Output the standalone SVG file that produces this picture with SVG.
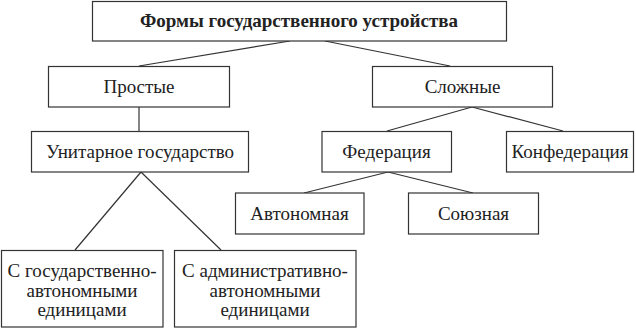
<svg xmlns="http://www.w3.org/2000/svg" width="636" height="329" viewBox="0 0 636 329">
<style>
  rect { fill: #ffffff; stroke: #333333; stroke-width: 1.2; }
  text { font-family: "Liberation Serif", "DejaVu Serif", serif; font-size: 19px; fill: #222222; text-anchor: middle; }
  .title { font-weight: bold; }
  #connectors line { stroke: #333333; stroke-width: 1.2; }
</style>
<rect x="0" y="0" width="636" height="329" style="fill:#ffffff;stroke:none"/>
<g id="connectors">
  <line x1="290" y1="41" x2="139" y2="66"/>
  <line x1="325" y1="41" x2="450" y2="66"/>
  <line x1="139" y1="107" x2="139" y2="131"/>
  <line x1="472" y1="107" x2="387" y2="131"/>
  <line x1="472" y1="107" x2="563" y2="131"/>
  <line x1="388" y1="172" x2="304" y2="193"/>
  <line x1="388" y1="172" x2="473" y2="193"/>
  <line x1="141" y1="172" x2="75" y2="250"/>
  <line x1="141" y1="172" x2="221" y2="250"/>
</g>
<g id="root">
  <rect x="92.5" y="1.5" width="414" height="39.5"/>
  <text class="title" x="299" y="27">Формы государственного устройства</text>
</g>
<g id="simple">
  <rect x="48.5" y="66.5" width="181" height="40.5"/>
  <text x="139" y="93">Простые</text>
</g>
<g id="complex">
  <rect x="372.5" y="66.5" width="180" height="40.5"/>
  <text x="462.5" y="93">Сложные</text>
</g>
<g id="unitary">
  <rect x="31.5" y="131.5" width="217" height="40.5"/>
  <text x="140" y="158">Унитарное государство</text>
</g>
<g id="federation">
  <rect x="322" y="131.5" width="129.5" height="40.5"/>
  <text x="386.5" y="158">Федерация</text>
</g>
<g id="confederation">
  <rect x="506.5" y="131.5" width="127" height="40.5"/>
  <text x="570" y="158">Конфедерация</text>
</g>
<g id="autonomous">
  <rect x="235.5" y="193" width="128.5" height="41"/>
  <text x="299.5" y="220">Автономная</text>
</g>
<g id="union">
  <rect x="408.5" y="193" width="130" height="41"/>
  <text x="473.5" y="220">Союзная</text>
</g>
<g id="state-autonomous">
  <rect x="1.5" y="250.5" width="161.5" height="76.5"/>
  <text x="82" y="277">С государственно-</text>
  <text x="82" y="297">автономными</text>
  <text x="82" y="316">единицами</text>
</g>
<g id="admin-autonomous">
  <rect x="174.5" y="250.5" width="181.5" height="76.5"/>
  <text x="265" y="277">С административно-</text>
  <text x="265" y="297">автономными</text>
  <text x="265" y="316">единицами</text>
</g>
</svg>
